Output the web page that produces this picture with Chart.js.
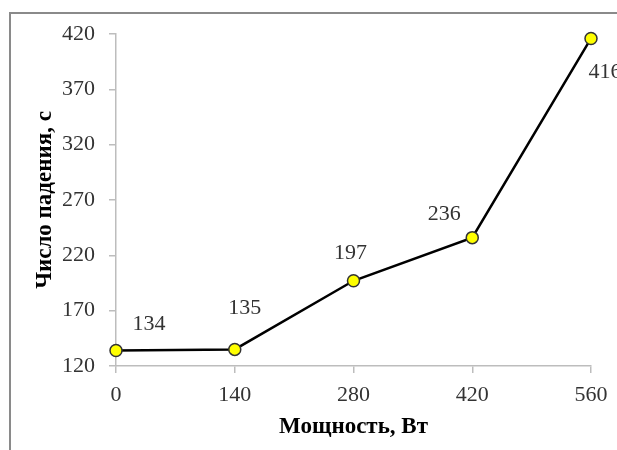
<!DOCTYPE html>
<html>
<head>
<meta charset="utf-8">
<script src="https://cdn.jsdelivr.net/npm/chart.js@4"></script>
<style>
  html, body { margin: 0; padding: 0; background: #fff; overflow: hidden; }
  #wrap { position: relative; width: 617px; height: 450px; }
  #frame {
    position: absolute; left: 9px; top: 12px; width: 700px; height: 500px;
    border-left: 2px solid #8a8a8a; border-top: 2px solid #8a8a8a;
  }
  canvas { position: absolute; left: 0; top: 0; }
</style>
</head>
<body>
<div id="wrap">
  <div id="frame"></div>
  <canvas id="chart" width="617" height="450"></canvas>
</div>
<script>
const powerW = [0, 140, 280, 420, 560]
const fallCount = [134, 135, 197, 236, 416]
const yTicks = [120, 170, 220, 270, 320, 370, 420]
const xTitle = "Мощность, Вт"
const yTitle = "Число падения, с"

// label offsets from each point (px), as placed in the source picture
const labelOffsets = [[33, -26], [10, -41], [-3, -28], [-28, -23], [14, 34]]

const serif = "'Liberation Serif', 'Times New Roman', serif"
const axisGray = "#bdbdbd"

const pointLabels = {
  id: "pointLabels",
  afterDatasetsDraw(chart) {
    const { ctx } = chart
    const meta = chart.getDatasetMeta(0)
    ctx.save()
    ctx.font = "22px " + serif
    ctx.fillStyle = "#333"
    ctx.textAlign = "center"
    ctx.textBaseline = "middle"
    meta.data.forEach((pt, i) => {
      const [dx, dy] = labelOffsets[i]
      ctx.fillText(String(fallCount[i]), pt.x + dx, pt.y + dy)
    })
    ctx.restore()
  }
}

new Chart(document.getElementById("chart"), {
  type: "line",
  data: {
    datasets: [{
      data: powerW.map((x, i) => ({ x, y: fallCount[i] })),
      borderColor: "#000",
      borderWidth: 2.5,
      pointRadius: 6,
      pointBackgroundColor: "#ffff00",
      pointBorderColor: "#333",
      pointBorderWidth: 1.5,
      tension: 0,
      clip: false,
    }]
  },
  options: {
    responsive: false,
    animation: false,
    layout: { padding: { left: 0, top: 34, right: 26, bottom: 0 } },
    plugins: {
      legend: { display: false },
      tooltip: { enabled: false },
    },
    scales: {
      x: {
        type: "linear",
        min: 0,
        max: 560,
        afterBuildTicks: (s) => { s.ticks = powerW.map(v => ({ value: v })) },
        afterFit: (s) => { s.height = 84 },
        border: { color: axisGray, width: 1.5 },
        grid: { drawOnChartArea: false, color: axisGray, tickLength: 7, lineWidth: 1.5 },
        ticks: { color: "#333", padding: 9, font: { family: serif, size: 22 } },
        title: {
          display: true,
          text: xTitle,
          color: "#000",
          padding: { top: 0, bottom: 9 },
          font: { family: serif, size: 23, weight: "bold" },
        },
      },
      y: {
        min: 120,
        max: 420,
        afterBuildTicks: (s) => { s.ticks = yTicks.map(v => ({ value: v })) },
        afterFit: (s) => { s.width = 116 },
        border: { color: axisGray, width: 1.5 },
        grid: { drawOnChartArea: false, color: axisGray, tickLength: 7, lineWidth: 1.5 },
        ticks: { color: "#333", padding: 14, font: { family: serif, size: 22 } },
        title: {
          display: true,
          text: yTitle,
          color: "#000",
          padding: { top: 31, bottom: 0 },
          font: { family: serif, size: 23, weight: "bold" },
        },
      },
    },
  },
  plugins: [pointLabels],
})
</script>
</body>
</html>
